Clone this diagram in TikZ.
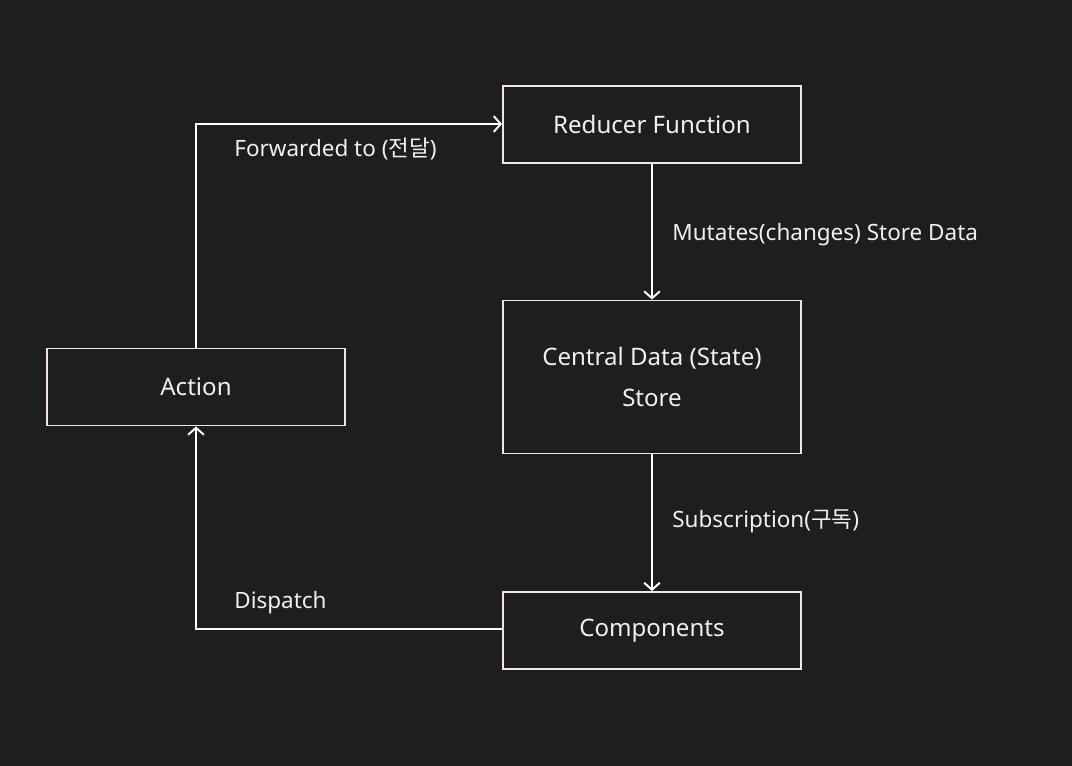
\documentclass[tikz,border=0pt]{standalone}
\usepackage{fontspec}
\setmainfont{Noto Sans}
\newfontfamily\kr{Noto Sans CJK KR}
\usetikzlibrary{arrows.meta}
\definecolor{bgdark}{HTML}{1E1E1E}
\definecolor{boxline}{HTML}{F2E4E4}
\definecolor{txtlight}{HTML}{F0F0F0}
\tikzset{
	box/.style={draw=boxline, line width=1.1pt, fill=bgdark, text=txtlight,
		minimum width=5.96cm, minimum height=1.54cm, align=center,
		font=\fontsize{13.7}{22.8}\selectfont},
	flow/.style={draw=white, line width=1.1pt, -{Straight Barb[length=4pt,width=9pt,line width=1.1pt]}},
	lbl/.style={anchor=west, text=txtlight, inner sep=0pt, font=\fontsize{12.8}{15}\selectfont}
}

\begin{document}
\begin{tikzpicture}[x=0.02cm,y=-0.02cm]
	\fill[bgdark] (0,0) rectangle (1072,766);
	\useasboundingbox (0,0) rectangle (1072,766);
	\node[box] (reducer) at (652,124.5) {Reducer Function};
	\node[box, minimum height=3.06cm] (store) at (652,377) {Central Data (State)\\Store};
	\node[box] (comp) at (652,630.5) {Components};
	\node[box] (action) at (196,387) {Action};
	\coordinate (topturn) at (196,124);
	\coordinate (botturn) at (196,629);
	%arrows
	\draw[flow] (action.north) -- (topturn) -- (reducer.west |- topturn);
	\draw[flow] (reducer.south) -- (store.north);
	\draw[flow] (store.south) -- (comp.north);
	\draw[flow] (comp.west |- botturn) -- (botturn) -- (action.south);
	%labels
	\node[lbl] (fwd) at (234,149) {Forwarded to ({\kr 전달})};
	\node[lbl] (mut) at (672,235) {Mutates(changes) Store Data};
	\node[lbl] (sub) at (672,521) {Subscription({\kr 구독})};
	\node[lbl] (disp) at (234,603) {Dispatch};
\end{tikzpicture}
\end{document}
